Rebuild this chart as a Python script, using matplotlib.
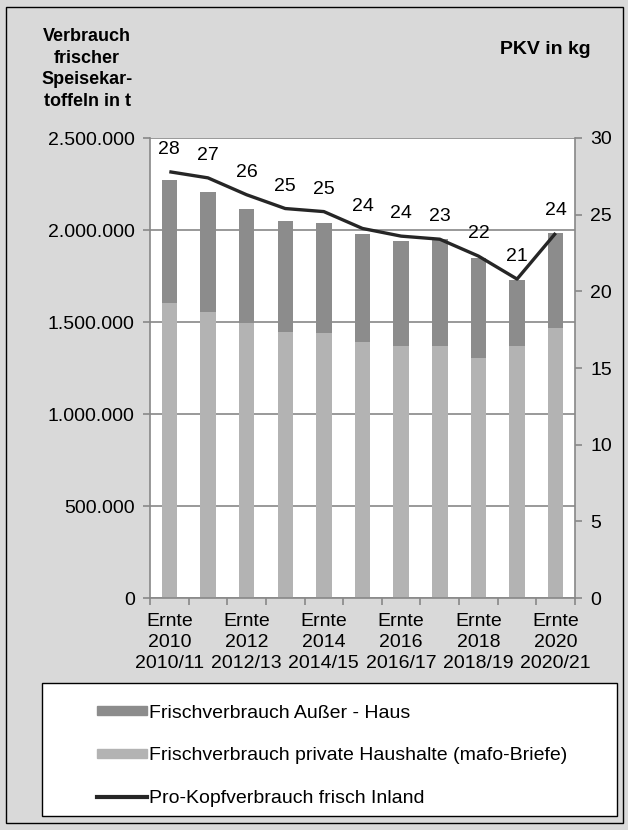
import numpy as np
import matplotlib
matplotlib.use("Agg")
import matplotlib.pyplot as plt
from matplotlib.ticker import FuncFormatter
from matplotlib.patches import Rectangle
from matplotlib.lines import Line2D

plt.rcParams['font.family'] = ['Liberation Sans', 'DejaVu Sans']

# Verbrauch frischer Speisekartoffeln (t) je Wirtschaftsjahr
jahre = ["2010/11", "2011/12", "2012/13", "2013/14", "2014/15", "2015/16",
         "2016/17", "2017/18", "2018/19", "2019/20", "2020/21"]
ernte = ["2010", "2011", "2012", "2013", "2014", "2015",
         "2016", "2017", "2018", "2019", "2020"]
private_haushalte = [1603000, 1556000, 1493000, 1444000, 1439000, 1393000,
                     1370000, 1370000, 1303000, 1371000, 1469000]
gesamt = [2272000, 2208000, 2114000, 2050000, 2040000, 1976000,
          1942000, 1949000, 1846000, 1728000, 1982000]
ausser_haus = [g - p for g, p in zip(gesamt, private_haushalte)]
pkv = [27.8, 27.4, 26.3, 25.4, 25.2, 24.1, 23.6, 23.4, 22.3, 20.8, 23.8]

hell = "#b3b3b3"
dunkel = "#8c8c8c"
linie = "#262626"
raster = "#888888"
hintergrund = "#d9d9d9"

fig = plt.figure(figsize=(6.28, 8.30), dpi=100, facecolor=hintergrund)
ax = fig.add_axes([150 / 628, 1 - 598 / 830, 425 / 628, 460 / 830])
ax.set_facecolor("white")

x = np.arange(len(jahre))
b1 = ax.bar(x, private_haushalte, width=0.4, color=hell, zorder=2)
b2 = ax.bar(x, ausser_haus, width=0.4, bottom=private_haushalte, color=dunkel, zorder=2)

ax.set_xlim(-0.5, len(jahre) - 0.5)
ax.set_ylim(0, 2500000)
ax.set_yticks(np.arange(0, 2500001, 500000))
ax.yaxis.set_major_formatter(FuncFormatter(lambda v, p: f"{v:,.0f}".replace(",", ".")))
ax.yaxis.grid(True, color=raster, linewidth=1.2, zorder=1)
ax.set_axisbelow(True)

# Striche zwischen den Kategorien, Beschriftung nur jedes zweite Jahr
ax.set_xticks(np.arange(-0.5, len(jahre), 1))
ax.set_xticklabels([])
ax.set_xticks(x[::2], minor=True)
ax.set_xticklabels([f"Ernte\n{e}\n{j}" for e, j in zip(ernte[::2], jahre[::2])],
                   minor=True, fontsize=14, linespacing=1.3)
ax.tick_params(axis="x", which="major", length=5, color=raster, width=1.2)
ax.tick_params(axis="x", which="minor", length=0, pad=11)
ax.tick_params(axis="y", length=5, color=raster, width=1.2, labelsize=14, pad=6)

for s in ax.spines.values():
    s.set_color(raster)
    s.set_linewidth(1.2)
ax.spines["top"].set_visible(False)

ax2 = ax.twinx()
ax2.set_ylim(0, 30)
ax2.set_yticks(np.arange(0, 31, 5))
ax2.tick_params(axis="y", length=5, color=raster, width=1.2, labelsize=14, pad=6)
for s in ax2.spines.values():
    s.set_visible(False)
ln, = ax2.plot(x, pkv, color=linie, linewidth=2.4, solid_capstyle="butt", zorder=3)
for xi, v in zip(x, pkv):
    ax2.annotate(f"{v:.0f}", (xi, v), xytext=(0, 16), textcoords="offset points",
                 ha="center", va="center", fontsize=14)

fig.text(87 / 628, 1 - 69 / 830, "Verbrauch\nfrischer\nSpeisekar-\ntoffeln in t",
         ha="center", va="center", fontsize=13, fontweight="bold", linespacing=1.38)
fig.text(545 / 628, 1 - 50 / 830, "PKV in kg", ha="center", va="center",
         fontsize=14, fontweight="bold")

# Legendenrahmen und Einträge
fig.patches.append(Rectangle((42 / 628, 1 - 816 / 830), 575 / 628, 133 / 830,
                             transform=fig.transFigure, facecolor="white",
                             edgecolor="black", linewidth=1.0))
handles = [Rectangle((0, 0), 1, 1, color=dunkel), Rectangle((0, 0), 1, 1, color=hell),
           Line2D([], [], color=linie, linewidth=3)]
labels = ["Frischverbrauch Außer - Haus",
          "Frischverbrauch private Haushalte (mafo-Briefe)",
          "Pro-Kopfverbrauch frisch Inland"]
fig.legend(handles, labels, loc="upper left", bbox_to_anchor=(87 / 628, 1 - 695 / 830),
           frameon=False, fontsize=14, handlelength=2.6, handleheight=0.35,
           handletextpad=0.1, labelspacing=1.32, borderpad=0)

# Rahmen um die ganze Grafik
fig.patches.append(Rectangle((6 / 628, 1 - 823 / 830), 617 / 628, 816 / 830,
                             transform=fig.transFigure, facecolor="none",
                             edgecolor="black", linewidth=1.0))

fig.savefig("out.png", dpi=100, facecolor=hintergrund)
